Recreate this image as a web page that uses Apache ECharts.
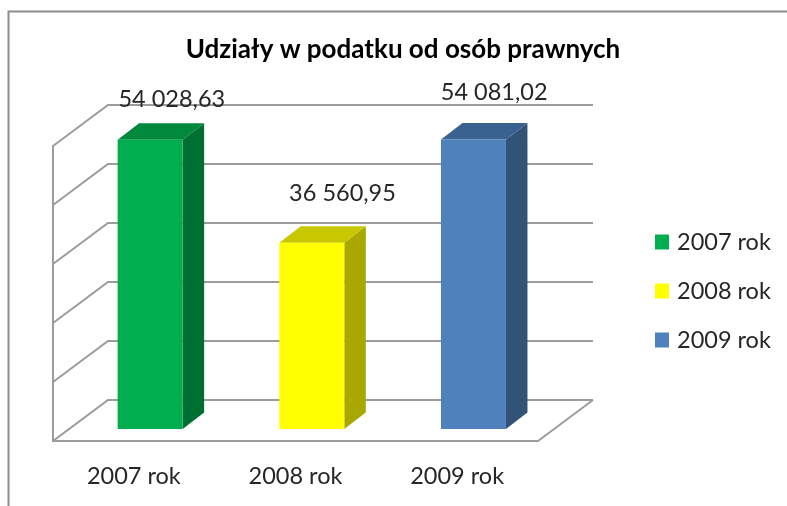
<!DOCTYPE html>
<html lang="pl">
<head>
  <meta charset="UTF-8">
  <title>Udziały w podatku od osób prawnych</title>
  <style>html,body{margin:0;padding:0;background:#fff}</style>
</head>
<body>
  <div id="main" style="width:787px;height:506px"></div>

  <script src="https://cdn.jsdelivr.net/npm/echarts@6/dist/echarts.min.js"></script>

  <script>
    var categories = ['2007 rok', '2008 rok', '2009 rok']
    var values = [54028.63, 36560.95, 54081.02]
    var gridValues = [5000, 15000, 25000, 35000, 45000, 55000]

    // face colours of each bar: front, side, top
    var faces = [
      ['#00AE4F', '#006F32', '#00883C'],
      ['#FFFF00', '#A8A800', '#C8C800'],
      ['#4F81BD', '#325378', '#3A6291']
    ]
    // hand placed labels, as in the original slide
    var labelShift = [[38, 40], [47, 49], [37, 47]]

    var axisGrey = '#9C9C9C'
    var textColor = '#262626'
    var fontFamily = 'Lato, "Noto Sans", sans-serif'

    // depth of the chart box and of the bars inside it
    var wallDx = 55, wallDy = 41
    var barInsetX = 16.3, barInsetY = 12
    var barDx = 21.5, barDy = 16.5, barWidth = 65

    function formatValue(v) {
      return v.toFixed(2).replace('.', ',').replace(/\B(?=(\d{3})+,)/g, ' ')
    }

    function renderWall(params, api) {
      var box = params.coordSys
      var y = api.coord([0, api.value(0)])[1]
      var left = box.x, right = box.x + box.width
      var children = [{
        type: 'polyline',
        shape: { points: [[left, y], [left + wallDx, y - wallDy], [right + wallDx, y - wallDy]] },
        style: { fill: null, stroke: axisGrey, lineWidth: 2 }
      }]
      if (params.dataIndex === 0) {
        children.push({
          type: 'line',
          shape: { x1: right, y1: y, x2: right + wallDx, y2: y - wallDy },
          style: { stroke: axisGrey, lineWidth: 2 }
        })
      }
      return { type: 'group', children: children }
    }

    function renderBar(params, api) {
      var i = api.value(0)
      var top = api.coord([i, api.value(1)])
      var base = api.coord([i, gridValues[0]])
      var x0 = top[0] + barInsetX - barWidth / 2
      var x1 = x0 + barWidth
      var yTop = top[1] - barInsetY
      var yBase = base[1] - barInsetY
      var c = faces[i]
      return {
        type: 'group',
        children: [
          { type: 'polygon', shape: { points: [[x1, yTop], [x1 + barDx, yTop - barDy], [x1 + barDx, yBase - barDy], [x1, yBase]] }, style: { fill: c[1] } },
          { type: 'polygon', shape: { points: [[x0, yTop], [x0 + barDx, yTop - barDy], [x1 + barDx, yTop - barDy], [x1, yTop]] }, style: { fill: c[2] } },
          { type: 'rect', shape: { x: x0, y: yTop, width: barWidth, height: yBase - yTop }, style: { fill: c[0] } },
          {
            type: 'text',
            style: {
              text: formatValue(api.value(1)),
              x: top[0] + labelShift[i][0],
              y: top[1] - barInsetY - labelShift[i][1],
              align: 'center',
              verticalAlign: 'middle',
              fill: textColor,
              font: '23.5px ' + fontFamily
            }
          }
        ]
      }
    }

    var series = [{
      type: 'custom',
      name: 'wall',
      silent: true,
      z: 1,
      data: gridValues.map(function (v) { return [v] }),
      encode: { y: 0 },
      renderItem: renderWall
    }]
    categories.forEach(function (name, i) {
      series.push({
        type: 'custom',
        name: name,
        z: 2,
        itemStyle: { color: faces[i][0] },
        data: [[i, values[i]]],
        encode: { x: 0, y: 1 },
        renderItem: renderBar
      })
    })

    var myChart = echarts.init(document.getElementById('main'))
    var options = {
      animation: false,
      backgroundColor: '#fff',
      title: {
        text: 'Udziały w podatku od osób prawnych',
        left: 398,
        top: 32,
        textAlign: 'center',
        textStyle: { color: '#000', fontFamily: fontFamily, fontWeight: 'bold', fontSize: 26 }
      },
      legend: {
        data: categories,
        orient: 'vertical',
        left: 650,
        top: 225,
        icon: 'rect',
        itemWidth: 14,
        itemHeight: 15,
        itemGap: 25,
        textStyle: { color: textColor, fontFamily: fontFamily, fontSize: 23.5, padding: [0, 0, 0, 3] }
      },
      grid: { left: 53, right: 249, top: 146, bottom: 65 },
      xAxis: {
        type: 'category',
        data: categories,
        axisLine: { lineStyle: { color: axisGrey, width: 2 } },
        axisTick: { length: 8, lineStyle: { color: axisGrey, width: 2 } },
        axisLabel: { color: textColor, fontFamily: fontFamily, fontSize: 23.5, margin: 23 }
      },
      yAxis: {
        type: 'value',
        min: gridValues[0],
        max: gridValues[gridValues.length - 1],
        axisLine: { show: true, lineStyle: { color: axisGrey, width: 2 } },
        axisTick: { show: false },
        axisLabel: { show: false },
        splitLine: { show: false }
      },
      graphic: [{
        type: 'polyline',
        shape: { points: [[8.5, 506], [8.5, 11.5], [787, 11.5]] },
        style: { fill: null, stroke: '#8C8C8C', lineWidth: 2 }
      }],
      series: series
    }
    myChart.setOption(options)
  </script>
</body>
</html>
